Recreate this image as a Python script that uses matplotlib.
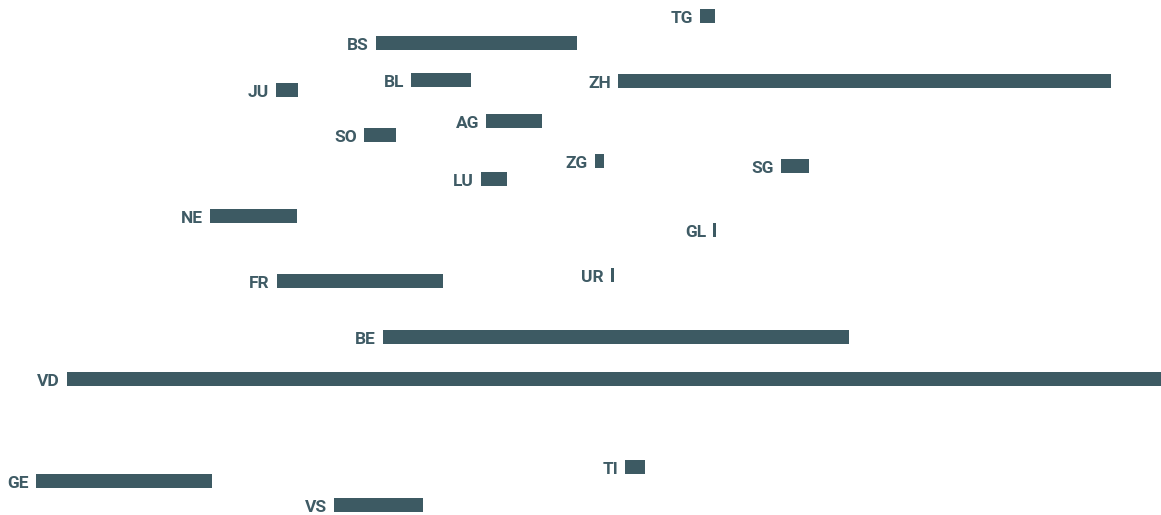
import matplotlib.pyplot as plt

# canton codes, bar left edge / row position (pixel grid), bar length
cantons = ['TG', 'BS', 'JU', 'BL', 'ZH', 'AG', 'SO', 'ZG', 'SG', 'LU',
           'NE', 'GL', 'FR', 'UR', 'BE', 'VD', 'TI', 'GE', 'VS']
pos_x = [700, 376, 276, 411, 618, 486, 364, 595, 781, 481,
         210, 713, 277, 611, 383, 67, 625, 36, 334]
pos_y = [16, 43, 90, 80, 81, 121, 135, 161, 166, 179,
         216, 230, 281, 275, 337, 379, 467, 481, 505]
values = [15, 201, 22, 60, 493, 56, 32, 9, 28, 26,
          87, 3, 166, 3, 466, 1094, 20, 176, 89]

BAR = '#3d5a63'
TXT = '#3f5b65'


def plot_data():
  fig = plt.figure(figsize=(11.61, 5.15), dpi=100)
  ax = fig.add_axes([0, 0, 1, 1])
  ax.set_xlim(0, 1161)
  ax.set_ylim(515, 0)
  ax.axis('off')

  ax.barh(pos_y, values, left=pos_x, height=13.7, color=BAR)

  for name, x, y in zip(cantons, pos_x, pos_y):
    ax.text(x - 7, y + 7, name, ha='right', va='baseline',
            fontsize=12.5, fontweight='bold', color=TXT,
            family=['Roboto', 'DejaVu Sans'])

  fig.savefig('out.png', dpi=100)
  plt.close(fig)


def main():
  plot_data()


if __name__ == '__main__':
  main()
